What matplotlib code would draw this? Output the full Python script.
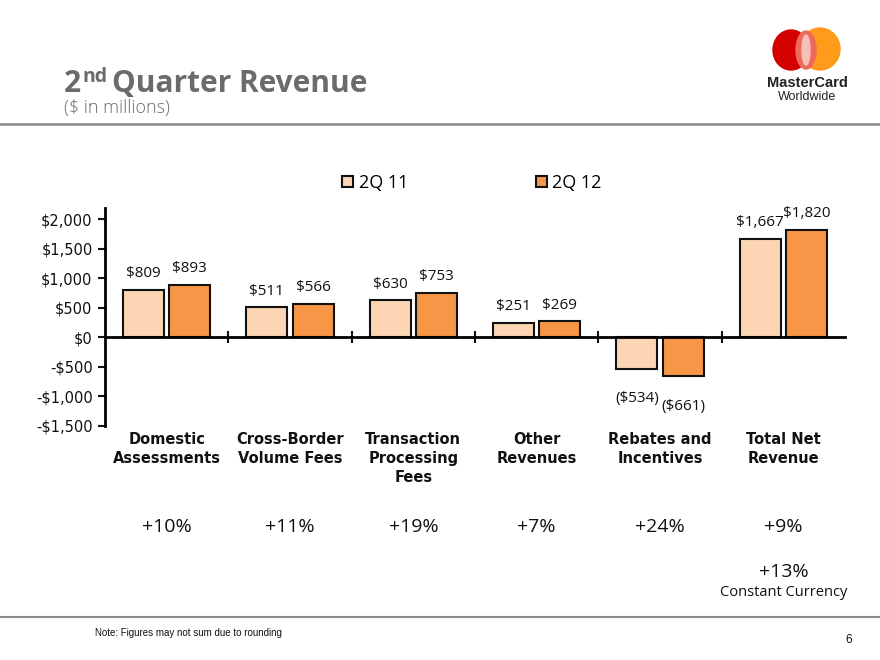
import matplotlib
matplotlib.use('Agg')
import matplotlib.pyplot as plt
import numpy as np
from matplotlib.patches import Ellipse
from matplotlib.lines import Line2D
import matplotlib.transforms as mtransforms

# ---- data ----
categories = ["Domestic\nAssessments", "Cross-Border\nVolume Fees",
              "Transaction\nProcessing\nFees", "Other\nRevenues",
              "Rebates and\nIncentives", "Total Net\nRevenue"]
q2_11 = [809, 511, 630, 251, -534, 1667]
q2_12 = [893, 566, 753, 269, -661, 1820]
series_names = ["2Q 11", "2Q 12"]
growth = ["+10%", "+11%", "+19%", "+7%", "+24%", "+9%"]
growth_cc = "+13%"
ytick_values = [-1500, -1000, -500, 0, 500, 1000, 1500, 2000]

c_light = "#FCD5B5"
c_dark = "#F79646"
gray = "#6b6b6b"

def money(v):
    return f"${v:,.0f}" if v >= 0 else f"(${-v:,.0f})"

def tick_money(v):
    return f"${v:,.0f}" if v >= 0 else f"-${-v:,.0f}"

fig = plt.figure(figsize=(8.8, 6.6), dpi=100)
fig.patch.set_facecolor("white")

W, H = 880, 660
def fx(px): return px / W
def fy(py): return 1 - py / H

ax = fig.add_axes([fx(105), fy(426), fx(845) - fx(105), fy(208) - fy(426)])

x = np.arange(len(categories))
bw = 0.333
off = 0.187
b1 = ax.bar(x - off, q2_11, bw, color=c_light, edgecolor="#111111", linewidth=1.5, label=series_names[0], zorder=3)
b2 = ax.bar(x + off, q2_12, bw, color=c_dark, edgecolor="#111111", linewidth=1.5, label=series_names[1], zorder=3)

for bars, vals in ((b1, q2_11), (b2, q2_12)):
    for rect, v in zip(bars, vals):
        cx = rect.get_x() + rect.get_width() / 2
        dy = 11.5 if v >= 0 else -21.5
        ax.annotate(money(v), (cx, v), xytext=(0, dy), textcoords="offset points",
                    ha="center", va="center", fontsize=11, family="Open Sans", color="#111111")

ax.set_xlim(-0.5, len(categories) - 0.5)
ax.set_ylim(-1500, 2190)
ax.set_yticks(ytick_values)
ax.set_yticklabels([tick_money(v) for v in ytick_values], fontsize=10.5, family="DejaVu Sans")
ax.tick_params(axis="y", direction="out", length=5, width=1.5, pad=4, colors="#111111")
ax.set_xticks(np.arange(0.5, len(categories) - 0.5, 1.0))
ax.set_xticklabels([])
ax.tick_params(axis="x", direction="inout", length=9, width=1.5, colors="#111111")
for s in ("top", "right"):
    ax.spines[s].set_visible(False)
ax.spines["bottom"].set_position(("data", 0))
ax.spines["bottom"].set_linewidth(2)
ax.spines["left"].set_linewidth(2)
ax.spines["bottom"].set_zorder(4)
ax.set_facecolor("none")

# category labels and growth
tr = mtransforms.blended_transform_factory(ax.transData, fig.transFigure)
for i, (cat, g) in enumerate(zip(categories, growth)):
    ax.text(i, fy(432), cat, transform=tr, ha="center", va="top", fontsize=10.5,
            fontweight="bold", family="DejaVu Sans", linespacing=1.35, color="#111111")
    ax.text(i, fy(527), g, transform=tr, ha="center", va="center", fontsize=14,
            family="Open Sans", color="#111111")
ax.text(len(categories) - 1, fy(572), growth_cc, transform=tr, ha="center", va="center",
        fontsize=14, family="Open Sans", color="#111111")
ax.text(len(categories) - 1, fy(593), "Constant Currency", transform=tr, ha="center", va="center",
        fontsize=10.5, family="Open Sans", color="#111111")

# legend
fig.legend(handles=[b1, b2], labels=series_names, loc="center", bbox_to_anchor=(fx(472), fy(183)),
           ncol=2, frameon=False, prop={"family": "Open Sans", "size": 13},
           handlelength=0.6, handleheight=0.6, handletextpad=0.3, columnspacing=7.1)

# title
renderer = fig.canvas.get_renderer()
t1 = fig.text(fx(64), fy(92), "2", fontsize=21.5, fontweight="bold", family="Open Sans", color=gray, va="baseline")
bb = t1.get_window_extent(renderer)
t2 = fig.text(bb.x1 / W + 0.001, fy(82), "nd", fontsize=14, fontweight="bold", family="Open Sans", color=gray, va="baseline")
bb2 = t2.get_window_extent(renderer)
fig.text(bb2.x1 / W + 0.006, fy(92), "Quarter Revenue", fontsize=21.5, fontweight="bold",
         family="Open Sans", color=gray, va="baseline")
fig.text(fx(64), fy(108), "($ in millions)", fontsize=13, family="Open Sans", color=gray,
         va="center", fontweight="light")

# separator lines
fig.add_artist(Line2D([0, 1], [fy(124), fy(124)], color="#8a8a8a", linewidth=1.8))
fig.add_artist(Line2D([0, 1], [fy(617), fy(617)], color="#8a8a8a", linewidth=1.5))

# footer
fig.text(fx(95), fy(633), "Note: Figures may not sum due to rounding", fontsize=7,
         family="Liberation Sans", color="#111111", va="center")
fig.text(fx(845), fy(640), "6", fontsize=8.5, family="Liberation Sans", color="#111111", va="center")

# logo
lax = fig.add_axes([fx(765), fy(76), fx(850) - fx(765), fy(24) - fy(76)])
lax.set_xlim(765, 850)
lax.set_ylim(76, 24)
lax.axis("off")
lax.add_patch(Ellipse((791, 50), 36, 40, color="#D40000", zorder=1))
lax.add_patch(Ellipse((820, 49), 40, 42, color="#FF9A1A", zorder=1))
lax.add_patch(Ellipse((806, 50), 20, 38, color="#EE6A5A", zorder=2))
lax.add_patch(Ellipse((806, 50), 8, 30, color="#F6C0B8", zorder=3))
fig.text(fx(807), fy(83), "MasterCard", fontsize=10.5, fontweight="bold",
         family=["Liberation Sans Narrow", "Liberation Sans"], color="#222222", ha="center", va="center")
fig.text(fx(807), fy(97), "Worldwide", fontsize=9,
         family=["Liberation Sans Narrow", "Liberation Sans"], color="#222222", ha="center", va="center")

fig.savefig("out.png", dpi=100)
